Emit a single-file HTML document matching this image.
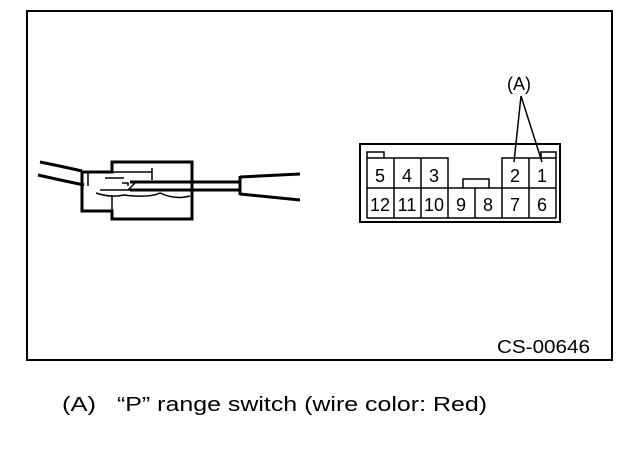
<!DOCTYPE html>
<html><head><style>
body{margin:0;background:#fff;width:640px;height:448px;overflow:hidden;font-family:"Liberation Sans",sans-serif}
</style></head><body>
<svg width="640" height="448" viewBox="0 0 640 448" xmlns="http://www.w3.org/2000/svg">
<rect x="27" y="11" width="585" height="349" fill="none" stroke="#000" stroke-width="2"/>
<g fill="none" stroke="#000">
<path d="M40 162 Q60 166 82 171 M38 175 Q60 180 84 185" stroke-width="3"/>
<path d="M82 172 H112 V162 H192 V219 H112 V211 H82 Z" stroke-width="3"/>
<path d="M88 173 V186 M112 172 H152 V180 M105 178 H124 M152 168 V173 M122 183 H128 V186 M100 190 H160" stroke-width="1.5"/>
<path d="M96 193 Q110 198 124 195 Q150 198 160 193 Q175 200 190 196" stroke-width="1.5"/>
<path d="M112 195 V212 M128 190 L135 183" stroke-width="1.5"/>
<path d="M130 182 H240 M130 190 H240" stroke-width="3"/>
<path d="M240 176 V195 M240 177 L300 174 M240 194 L300 200" stroke-width="3"/>
<rect x="360" y="144" width="200" height="78" stroke-width="2"/>
<path d="M367 158 V152 H384 V158 M541 158 V152 H556 V158" stroke-width="1.5"/>
<path d="M367 218 V158 H448 V218 M367 188 H556 M394 158 V218 M421 158 V218 M475 188 V218 M502 218 V158 H556 V218 M529 158 V218 M367 218 H556 M463 188 V179 H489 V188" stroke-width="1.5"/>
<path d="M521 96 L514 162 M521 96 L542 162" stroke-width="1.5"/>
</g>
<g font-size="18" text-anchor="middle" fill="#000">
<text x="380" y="182">5</text><text x="407" y="182">4</text><text x="434" y="182">3</text>
<text x="515" y="182">2</text><text x="542" y="182">1</text>
<text x="380" y="211">12</text><text x="407" y="211">11</text><text x="434" y="211">10</text>
<text x="461" y="211">9</text><text x="488" y="211">8</text><text x="515" y="211">7</text><text x="542" y="211">6</text>
<text x="519" y="90">(A)</text>
</g>
<text x="497" y="353" font-size="18" textLength="93" lengthAdjust="spacingAndGlyphs" fill="#000">CS-00646</text>
<text x="62" y="411" font-size="20" textLength="34" lengthAdjust="spacingAndGlyphs" fill="#000">(A)</text>
<text x="117" y="411" font-size="20" textLength="370" lengthAdjust="spacingAndGlyphs" fill="#000">“P” range switch (wire color: Red)</text>
</svg>
</body></html>
